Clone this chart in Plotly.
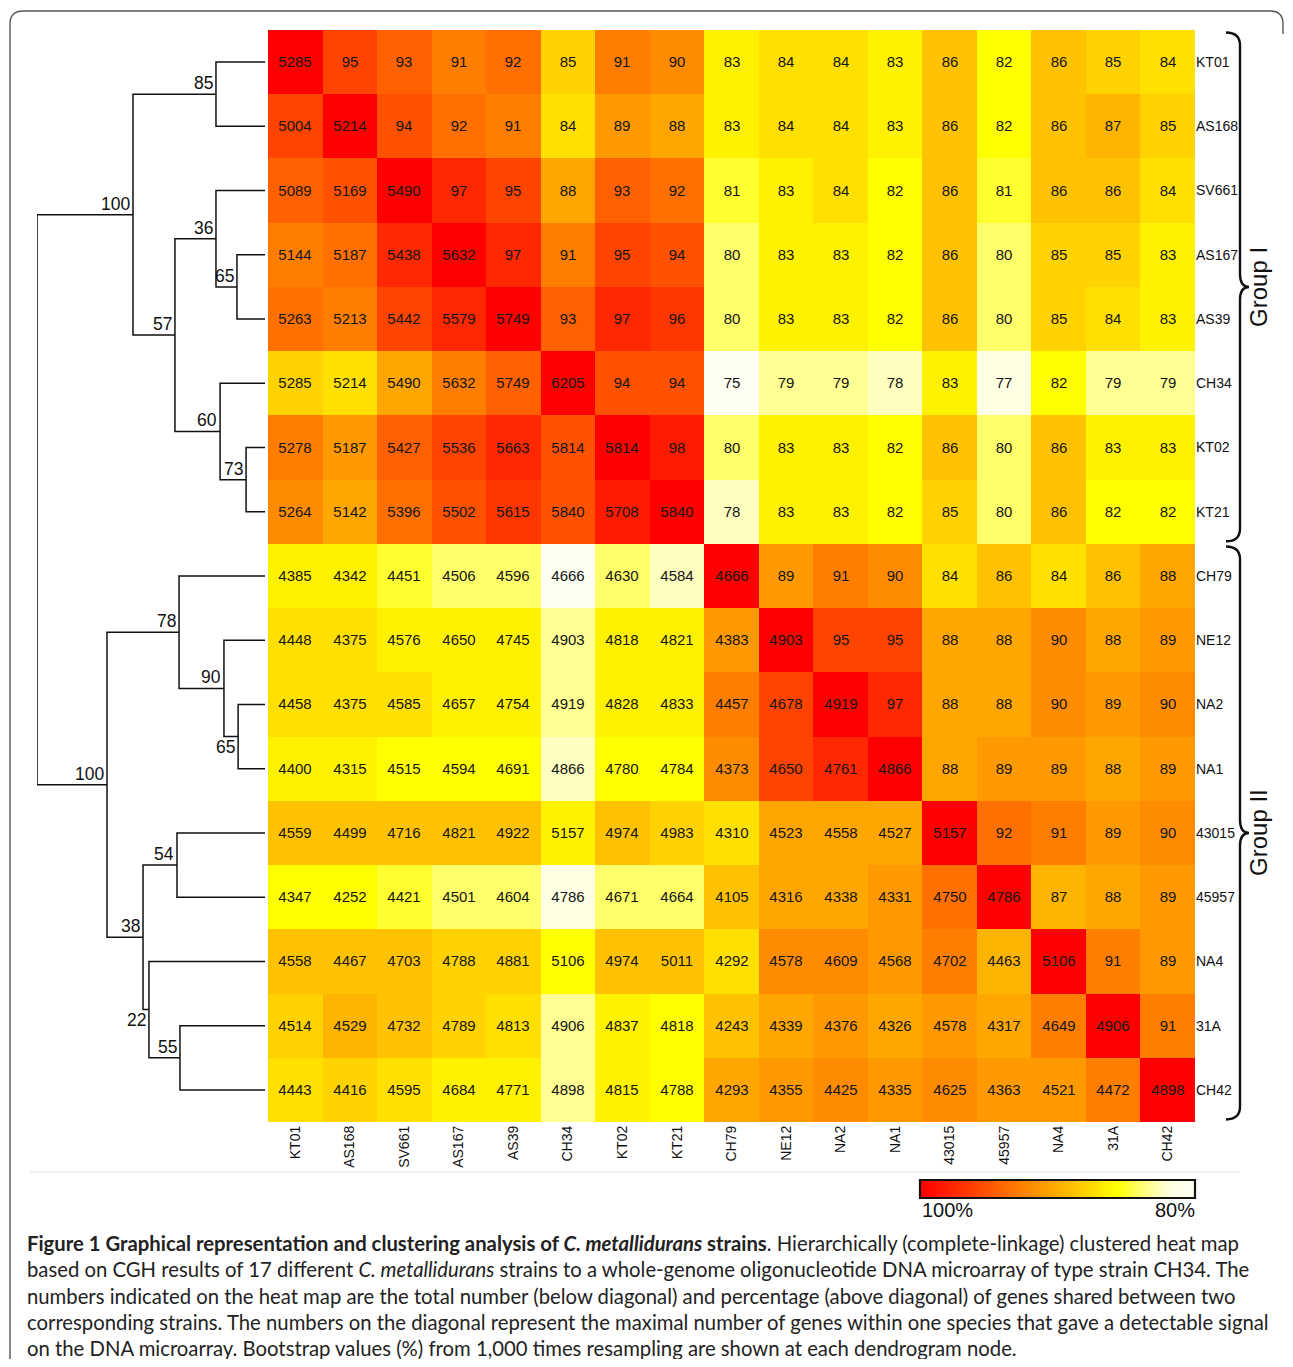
import numpy as np
import plotly.graph_objects as go

# ---------------- data ----------------
names = ["KT01", "AS168", "SV661", "AS167", "AS39", "CH34", "KT02", "KT21",
         "CH79", "NE12", "NA2", "NA1", "43015", "45957", "NA4", "31A", "CH42"]

# percentage of shared genes above the diagonal (row i -> columns i+1 .. 16)
upper_pct = [
    [95, 93, 91, 92, 85, 91, 90, 83, 84, 84, 83, 86, 82, 86, 85, 84],
    [94, 92, 91, 84, 89, 88, 83, 84, 84, 83, 86, 82, 86, 87, 85],
    [97, 95, 88, 93, 92, 81, 83, 84, 82, 86, 81, 86, 86, 84],
    [97, 91, 95, 94, 80, 83, 83, 82, 86, 80, 85, 85, 83],
    [93, 97, 96, 80, 83, 83, 82, 86, 80, 85, 84, 83],
    [94, 94, 75, 79, 79, 78, 83, 77, 82, 79, 79],
    [98, 80, 83, 83, 82, 86, 80, 86, 83, 83],
    [78, 83, 83, 82, 85, 80, 86, 82, 82],
    [89, 91, 90, 84, 86, 84, 86, 88],
    [95, 95, 88, 88, 90, 88, 89],
    [97, 88, 88, 90, 89, 90],
    [88, 89, 89, 88, 89],
    [92, 91, 89, 90],
    [87, 88, 89],
    [91, 89],
    [91],
    [],
]

# number of shared genes below the diagonal (row i -> columns 0 .. i-1)
lower_cnt = [
    [],
    [5004],
    [5089, 5169],
    [5144, 5187, 5438],
    [5263, 5213, 5442, 5579],
    [5285, 5214, 5490, 5632, 5749],
    [5278, 5187, 5427, 5536, 5663, 5814],
    [5264, 5142, 5396, 5502, 5615, 5840, 5708],
    [4385, 4342, 4451, 4506, 4596, 4666, 4630, 4584],
    [4448, 4375, 4576, 4650, 4745, 4903, 4818, 4821, 4383],
    [4458, 4375, 4585, 4657, 4754, 4919, 4828, 4833, 4457, 4678],
    [4400, 4315, 4515, 4594, 4691, 4866, 4780, 4784, 4373, 4650, 4761],
    [4559, 4499, 4716, 4821, 4922, 5157, 4974, 4983, 4310, 4523, 4558, 4527],
    [4347, 4252, 4421, 4501, 4604, 4786, 4671, 4664, 4105, 4316, 4338, 4331, 4750],
    [4558, 4467, 4703, 4788, 4881, 5106, 4974, 5011, 4292, 4578, 4609, 4568, 4702, 4463],
    [4514, 4529, 4732, 4789, 4813, 4906, 4837, 4818, 4243, 4339, 4376, 4326, 4578, 4317, 4649],
    [4443, 4416, 4595, 4684, 4771, 4898, 4815, 4788, 4293, 4355, 4425, 4335, 4625, 4363, 4521, 4472],
]

# maximal number of genes per strain (diagonal)
diag_cnt = [5285, 5214, 5490, 5632, 5749, 6205, 5814, 5840,
            4666, 4903, 4919, 4866, 5157, 4786, 5106, 4906, 4898]

# dendrogram merges: (child A, child B, height, bootstrap %)
merges = [
    ("KT01", "AS168", 0.215, 85),   # m0
    ("AS167", "AS39", 0.123, 65),   # m1
    ("SV661", "m1", 0.215, 36),     # m2
    ("KT02", "KT21", 0.083, 73),    # m3
    ("CH34", "m3", 0.197, 60),      # m4
    ("m2", "m4", 0.395, 57),        # m5
    ("m0", "m5", 0.579, 100),       # m6  (Group I)
    ("NA2", "NA1", 0.118, 65),      # m7
    ("NE12", "m7", 0.180, 90),      # m8
    ("CH79", "m8", 0.377, 78),      # m9
    ("43015", "45957", 0.386, 54),  # m10
    ("31A", "CH42", 0.373, 55),     # m11
    ("NA4", "m11", 0.509, 22),      # m12
    ("m10", "m12", 0.535, 38),      # m13
    ("m9", "m13", 0.693, 100),      # m14 (Group II)
    ("m6", "m14", 1.000, None),     # root
]
labels_below = {"m7", "m12"}

groups = [("Group I", 0, 7), ("Group II", 8, 16)]

caption_lines = [
    "<b>Figure 1 Graphical representation and clustering analysis of <i>C. metallidurans</i> strains</b>. "
    "Hierarchically (complete-linkage) clustered heat map",
    "based on CGH results of 17 different <i>C. metallidurans</i> strains to a whole-genome oligonucleotide "
    "DNA microarray of type strain CH34. The",
    "numbers indicated on the heat map are the total number (below diagonal) and percentage (above diagonal) "
    "of genes shared between two",
    "corresponding strains. The numbers on the diagonal represent the maximal number of genes within one "
    "species that gave a detectable signal",
    "on the DNA microarray. Bootstrap values (%) from 1,000 times resampling are shown at each dendrogram node.",
]

# ---------------- matrices ----------------
N = len(names)
pct = np.full((N, N), 100.0)
text = [["" for _ in range(N)] for _ in range(N)]
for i in range(N):
    text[i][i] = str(diag_cnt[i])
    for k, v in enumerate(upper_pct[i]):
        j = i + 1 + k
        pct[i][j] = v
        pct[j][i] = v
        text[i][j] = str(v)
    for j, v in enumerate(lower_cnt[i]):
        text[i][j] = str(v)

# ---------------- page geometry helpers ----------------
OFF = 8
FW, FH = 1277, 1351


def px(x):
    return (x - OFF) / FW


def py(y):
    return 1 - (y - OFF) / FH


colorscale = [
    [0.00, "#FFFFF2"], [0.08, "#FFFFE4"], [0.12, "#FFFFC0"], [0.16, "#FFFF94"],
    [0.20, "#FFFF6A"], [0.24, "#FFFF30"], [0.28, "#FFFF00"], [0.32, "#FFF200"],
    [0.36, "#FFE000"], [0.40, "#FFD200"], [0.44, "#FFC200"], [0.52, "#FFA600"],
    [0.60, "#FF8C00"], [0.68, "#FF7000"], [0.76, "#FF5200"], [0.84, "#FF3600"],
    [0.92, "#FF1A00"], [1.00, "#FF0000"],
]

fig = go.Figure()

fig.add_trace(go.Heatmap(
    z=pct, x=list(range(N)), y=list(range(N)),
    text=text, texttemplate="%{text}",
    textfont=dict(family="Liberation Sans, Arial, sans-serif", size=15, color="#151515"),
    colorscale=colorscale, zmin=75, zmax=100, showscale=False,
    hoverinfo="skip", xaxis="x", yaxis="y",
))

# ---------------- dendrogram ----------------
pos = {n: (0.0, float(i)) for i, n in enumerate(names)}
lx, ly = [], []
node_info = []
for k, (a, b, h, bs) in enumerate(merges):
    ha, ya = pos[a]
    hb, yb = pos[b]
    lx += [ha, h, h, hb, None]
    ly += [ya, ya, yb, yb, None]
    nid = "m%d" % k
    ym = (ya + yb) / 2
    pos[nid] = (h, ym)
    if bs is not None:
        node_info.append((nid, h, ym, bs))

fig.add_trace(go.Scatter(
    x=lx, y=ly, mode="lines", line=dict(color="#111111", width=1.5),
    hoverinfo="skip", showlegend=False, xaxis="x2", yaxis="y",
))

annotations = []
for nid, h, ym, bs in node_info:
    below = nid in labels_below
    annotations.append(dict(
        x=h, y=ym, xref="x2", yref="y", text=str(bs), showarrow=False,
        xanchor="right", yanchor="top" if below else "bottom",
        xshift=-1, yshift=2 if below else -1,
        font=dict(family="Liberation Sans, Arial, sans-serif", size=17.5, color="#111"),
    ))

# ---------------- colour key ----------------
key_vals = np.linspace(100, 75, 200)
fig.add_trace(go.Heatmap(
    z=[key_vals], x=list(range(len(key_vals))), y=[0],
    colorscale=colorscale, zmin=75, zmax=100, showscale=False,
    hoverinfo="skip", xaxis="x3", yaxis="y3",
))
annotations.append(dict(x=px(920), y=py(1197), xref="paper", yref="paper", text="100%",
                        showarrow=False, xanchor="left", yanchor="top",
                        font=dict(family="Liberation Sans, Arial", size=20, color="#111")))
annotations.append(dict(x=px(1197), y=py(1197), xref="paper", yref="paper", text="80%",
                        showarrow=False, xanchor="right", yanchor="top",
                        font=dict(family="Liberation Sans, Arial", size=20, color="#111")))

# ---------------- group braces ----------------
shapes = []
xb0, xb1, xt = px(1226), px(1240), px(1249)
r = 0.2
for gname, g0, g1 in groups:
    top = g0 - 0.5 + 0.04
    bot = g1 + 0.5 - 0.04
    mid = (g0 + g1) / 2
    path = (f"M {xb0},{top} Q {xb1},{top} {xb1},{top + r} "
            f"L {xb1},{mid - r} Q {xb1},{mid} {xt},{mid} "
            f"Q {xb1},{mid} {xb1},{mid + r} "
            f"L {xb1},{bot - r} Q {xb1},{bot} {xb0},{bot}")
    shapes.append(dict(type="path", path=path, xref="paper", yref="y",
                       line=dict(color="#111", width=2.4)))
    annotations.append(dict(x=px(1259), y=mid, xref="paper", yref="y", text=gname,
                            textangle=-90, showarrow=False, xanchor="center", yanchor="middle",
                            font=dict(family="Liberation Sans, Arial", size=24, color="#111")))

# colour key border
shapes.append(dict(type="rect", xref="paper", yref="paper",
                   x0=px(920), x1=px(1195), y0=py(1198), y1=py(1180),
                   line=dict(color="#111", width=2.2)))
# faint separator line
shapes.append(dict(type="line", xref="paper", yref="paper",
                   x0=px(30), x1=px(1240), y0=py(1172), y1=py(1172),
                   line=dict(color="#e4e4e4", width=1)))

# open frame (left, top and top-right corner; bottom lies outside the page)
fx0, fy0, fx1, rad = 10, 11, 1283, 13
frame = " ".join([
    f"M {px(fx0)},{py(1380)}",
    f"L {px(fx0)},{py(fy0 + rad)}",
    f"Q {px(fx0)},{py(fy0)} {px(fx0 + rad)},{py(fy0)}",
    f"L {px(fx1 - rad)},{py(fy0)}",
    f"Q {px(fx1)},{py(fy0)} {px(fx1)},{py(fy0 + rad)}",
    f"L {px(fx1)},{py(fy0 + rad + 10)}",
])
shapes.append(dict(type="path", path=frame, xref="paper", yref="paper",
                   line=dict(color="#555", width=1.4)))

# ---------------- caption ----------------
cap_y = [1243, 1269, 1296, 1322, 1348]
for line, yy in zip(caption_lines, cap_y):
    annotations.append(dict(x=px(25), y=py(yy), xref="paper", yref="paper", text=line,
                            showarrow=False, xanchor="left", yanchor="middle",
                            font=dict(family="Lato, Liberation Sans, sans-serif", size=20.3, color="#222")))

fig.update_layout(
    width=FW, height=FH, margin=dict(l=0, r=0, t=0, b=0),
    paper_bgcolor="white", plot_bgcolor="white", showlegend=False,
    xaxis=dict(domain=[px(268), px(1195)], range=[-0.5, N - 0.5], anchor="y",
               tickmode="array", tickvals=list(range(N)), ticktext=names, tickangle=-90,
               tickfont=dict(family="Liberation Sans, Arial", size=14, color="#111"),
               showgrid=False, zeroline=False, showline=False, ticks=""),
    yaxis=dict(domain=[py(1122), py(30)], range=[N - 0.5, -0.5], anchor="x", side="right",
               tickmode="array", tickvals=list(range(N)), ticktext=names,
               tickfont=dict(family="Liberation Sans, Arial", size=14, color="#111"),
               showgrid=False, zeroline=False, showline=False, ticks=""),
    xaxis2=dict(domain=[px(37), px(265)], range=[1.0, 0.0], anchor="y", visible=False),
    xaxis3=dict(domain=[px(921), px(1194)], anchor="y3", visible=False),
    yaxis3=dict(domain=[py(1197), py(1181)], anchor="x3", visible=False),
    shapes=shapes, annotations=annotations,
)

fig.write_html("out.html")
